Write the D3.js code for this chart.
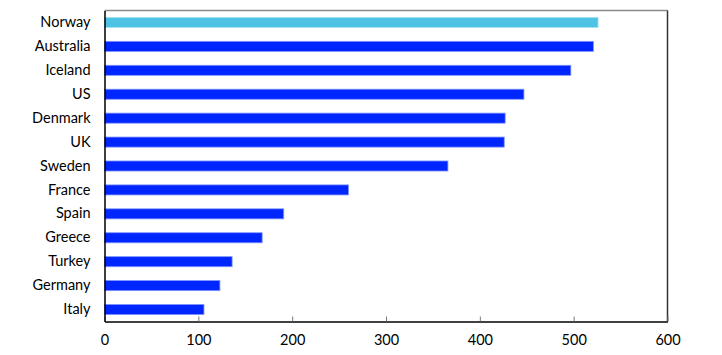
<!DOCTYPE html>
<html><head><meta charset="utf-8">
<script src="https://cdn.jsdelivr.net/npm/d3@7"></script>
<style>body{margin:0;background:#fff}svg{display:block}</style>
</head><body>
<svg id="c" width="722" height="355"></svg>
<script>
const categories = ["Norway","Australia","Iceland","US","Denmark","UK","Sweden","France","Spain","Greece","Turkey","Germany","Italy"];
const values = [526, 521, 497, 447, 427, 426, 366, 260, 191, 168, 136, 123, 106];
const highlight = ["Norway"];
const xTicks = [0,100,200,300,400,500,600];

const svg = d3.select("#c");
const m = {l:104.5, r:667.5, t:10.5, b:321.5};
const x = d3.scaleLinear().domain([0,600]).range([m.l, m.r]);
const y = d3.scaleBand().domain(categories).range([m.t, m.b]).paddingInner(0.58).paddingOuter(0.29);
const font = "Lato, 'Open Sans', sans-serif";

svg.append("g").selectAll("rect").data(categories).join("rect")
  .attr("x", x(0))
  .attr("y", d => y(d))
  .attr("width", (d,i) => x(values[i]) - x(0))
  .attr("height", y.bandwidth())
  .attr("fill", d => highlight.includes(d) ? "#4fc3e3" : "#0026ff")
  .attr("stroke", d => highlight.includes(d) ? "#a8e0f0" : "#7f92ff")
  .attr("stroke-width", 0.8);

// frame
svg.append("line").attr("x1", m.l).attr("x2", m.r).attr("y1", m.t).attr("y2", m.t).attr("stroke", "#8a8a8a").attr("stroke-width", 1.5);
svg.append("line").attr("x1", m.r).attr("x2", m.r).attr("y1", m.t).attr("y2", m.b).attr("stroke", "#333").attr("stroke-width", 1.5);

const xAxis = d3.axisBottom(x).tickValues(xTicks).tickSizeInner(-5).tickSizeOuter(0).tickPadding(13);
const gx = svg.append("g").attr("transform", `translate(0,${m.b})`).call(xAxis);
gx.select(".domain").attr("stroke", "#000").attr("stroke-width", 1.5);
gx.selectAll(".tick line").attr("stroke", "#777");
gx.selectAll("text").attr("font-family", font).attr("font-size", 14.5).attr("fill", "#000");

const yAxis = d3.axisLeft(y).tickSize(0).tickPadding(14);
const gy = svg.append("g").attr("transform", `translate(${m.l},0)`).call(yAxis);
gy.select(".domain").attr("stroke", "#000").attr("stroke-width", 1.5);
gy.selectAll("text").attr("font-family", font).attr("font-size", 14.5).attr("fill", "#000");
</script>
</body></html>
